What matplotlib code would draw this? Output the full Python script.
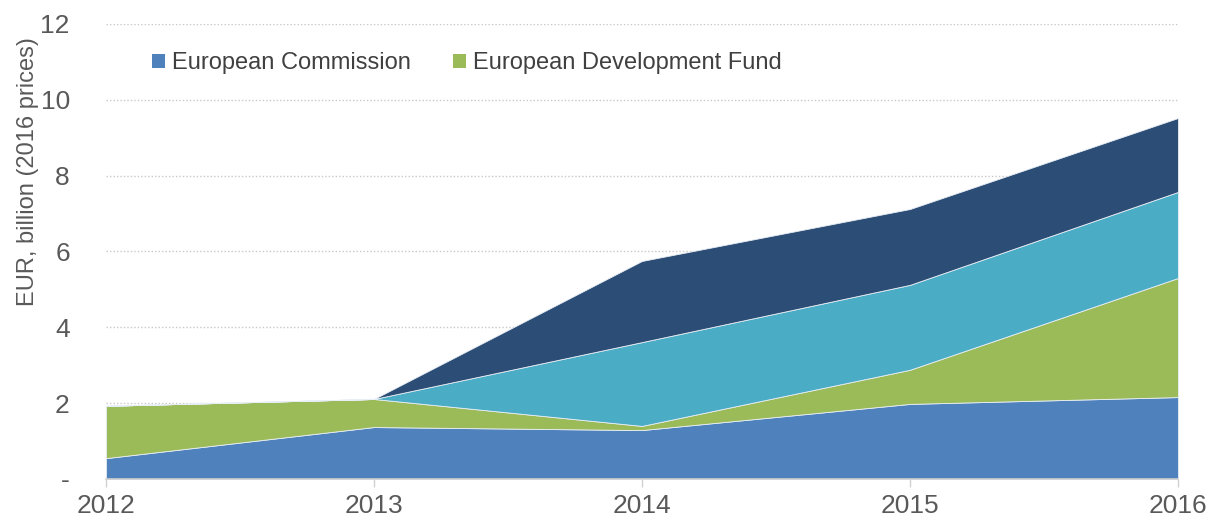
import matplotlib.pyplot as plt
from matplotlib.patches import Patch

plt.rcParams['font.family'] = ['Liberation Sans', 'DejaVu Sans']

years = [2012, 2013, 2014, 2015, 2016]
commission = [0.55, 1.37, 1.29, 1.98, 2.16]
dev_fund = [1.38, 0.74, 0.11, 0.90, 3.14]
series_3 = [0.0, 0.0, 2.21, 2.24, 2.27]
series_4 = [0.0, 0.0, 2.14, 2.00, 1.95]

colors = ['#4F81BD', '#9BBB59', '#4BACC6', '#2C4D75']
legend_labels = ['European Commission', 'European Development Fund']
yticks = [0, 2, 4, 6, 8, 10, 12]
ytick_labels = ['-', '2', '4', '6', '8', '10', '12']

fig = plt.figure(figsize=(12.08, 5.18), dpi=100)
ax = fig.add_axes([0.0877, 0.0753, 0.8874, 0.8784])

ax.stackplot(years, commission, dev_fund, series_3, series_4,
             colors=colors, edgecolor='#e8eef5', linewidth=0.6, zorder=2)

ax.set_xlim(2012, 2016)
ax.set_ylim(0, 12)
ax.set_xticks(years)
ax.set_yticks(yticks)
ax.set_yticklabels(ytick_labels)
ax.tick_params(axis='x', colors='#d0d0d0', labelcolor='#595959', labelsize=19,
               length=6, width=1, direction='out', pad=5)
ax.tick_params(axis='y', colors='#595959', labelsize=19, length=0, pad=26)

for y in yticks[1:]:
    ax.axhline(y, color='#c8c8c8', linestyle=(0, (1, 1.5)), linewidth=1, zorder=1)

for side in ['top', 'right', 'left']:
    ax.spines[side].set_visible(False)
ax.spines['bottom'].set_color('#d0d0d0')
ax.spines['bottom'].set_linewidth(1.2)

ax.set_ylabel('EUR, billion (2016 prices)', fontsize=17, color='#595959')
ax.yaxis.set_label_coords(-0.062, 0.675)

handles = [Patch(facecolor=c, edgecolor='none') for c in colors[:2]]
ax.legend(handles, legend_labels, loc='upper left', bbox_to_anchor=(0.023, 0.985),
          ncol=2, frameon=False, fontsize=17, handlelength=0.55, handleheight=0.55,
          handletextpad=0.3, columnspacing=1.8, labelcolor='#404040')

fig.savefig('out.png', dpi=100)
